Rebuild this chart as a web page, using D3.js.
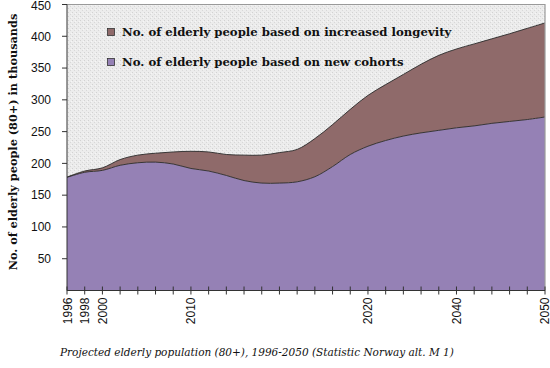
<!DOCTYPE html>
<html>
<head>
<meta charset="utf-8">
<script src="https://cdn.jsdelivr.net/npm/d3@7/dist/d3.min.js"></script>
<style>
  body { margin: 0; background: #fff; }
  svg { display: block; }
</style>
</head>
<body>
<svg width="550" height="368"></svg>
<script>
// data (thousands of people 80+)
const years = [1996, 1998, 2000, 2002, 2004, 2006, 2008, 2010, 2012, 2014, 2016, 2018, 2020, 2022,
  2024, 2026, 2028, 2030, 2032, 2034, 2036, 2038, 2040, 2042, 2044, 2046, 2048, 2050];
const newCohorts = [178, 186, 189, 197, 201, 202, 199, 192, 188, 181, 173, 169, 169, 171,
  179, 195, 214, 227, 236, 243, 248, 252, 256, 259, 263, 266, 269, 273];
const longevity = [0.5, 2, 4, 9, 12, 14, 19, 27, 30, 33, 40, 44, 48, 51,
  60, 66, 71, 80, 88, 97, 108, 118, 124, 129, 133, 138, 143.5, 148];
const yTicks = [50, 100, 150, 200, 250, 300, 350, 400, 450];
const xLabelYears = [1996, 1998, 2000, 2010, 2030, 2040, 2050];
const xLabelText = ["1996", "1998", "2000", "2010", "2020", "2040", "2050"];
const seriesKeys = ["cohorts", "longevity"];
const seriesNames = ["No. of elderly people based on new cohorts", "No. of elderly people based on increased longevity"];
const seriesColors = ["#9581b5", "#8f6a6a"];

const svg = d3.select("svg");

const x = d3.scaleLinear().domain([1996, 2050]).range([67, 545]);
const y = d3.scaleLinear().domain([0, 450]).range([290.5, 4.5]);

// stippled grey plot background
const defs = svg.append("defs");
const pat = defs.append("pattern")
  .attr("id", "stipple")
  .attr("width", 4).attr("height", 4)
  .attr("patternUnits", "userSpaceOnUse");
pat.append("rect").attr("width", 4).attr("height", 4).attr("fill", "#ececec");
pat.append("rect").attr("x", 0).attr("y", 0).attr("width", 1).attr("height", 1).attr("fill", "#d2d2d2");
pat.append("rect").attr("x", 2).attr("y", 2).attr("width", 1).attr("height", 1).attr("fill", "#d8d8d8");
pat.append("rect").attr("x", 3).attr("y", 1).attr("width", 1).attr("height", 1).attr("fill", "#f6f6f6");

svg.append("rect")
  .attr("x", x(1996)).attr("y", y(450))
  .attr("width", x(2050) - x(1996)).attr("height", y(0) - y(450))
  .attr("fill", "url(#stipple)");

const rows = years.map((yr, i) => ({ year: yr, cohorts: newCohorts[i], longevity: longevity[i] }));
const stack = d3.stack().keys(seriesKeys);
const layers = stack(rows);

const area = d3.area()
  .x(d => x(d.data.year))
  .y0(d => y(d[0]))
  .y1(d => y(d[1]))
  .curve(d3.curveCatmullRom);

const topLine = d3.line()
  .x(d => x(d.data.year))
  .y(d => y(d[1]))
  .curve(d3.curveCatmullRom);

svg.selectAll("path.layer")
  .data(layers)
  .enter()
  .append("path")
  .attr("class", "layer")
  .attr("d", area)
  .attr("fill", (d, i) => seriesColors[i]);

svg.selectAll("path.edge")
  .data(layers)
  .enter()
  .append("path")
  .attr("class", "edge")
  .attr("d", topLine)
  .attr("fill", "none")
  .attr("stroke", "#2a2a2a")
  .attr("stroke-width", 0.9);

// plot frame: grey top/right, dark axes
svg.append("path")
  .attr("d", `M${x(1996)},${y(450)}H${x(2050)}V${y(0)}`)
  .attr("fill", "none")
  .attr("stroke", "#9a9a9a")
  .attr("stroke-width", 1.2);

// y axis
const yAxis = svg.append("g").attr("transform", `translate(${x(1996)},0)`);
yAxis.append("line")
  .attr("x1", 0).attr("x2", 0)
  .attr("y1", y(450)).attr("y2", y(0))
  .attr("stroke", "#333").attr("stroke-width", 1);
yAxis.selectAll("line.tick")
  .data(yTicks)
  .enter()
  .append("line")
  .attr("class", "tick")
  .attr("x1", -5).attr("x2", 0)
  .attr("y1", d => y(d)).attr("y2", d => y(d))
  .attr("stroke", "#333");
yAxis.selectAll("text")
  .data(yTicks)
  .enter()
  .append("text")
  .attr("x", -16)
  .attr("y", d => Math.max(y(d), 5.5))
  .attr("dy", "0.36em")
  .attr("text-anchor", "end")
  .style("font-family", "'Liberation Sans', Arial, sans-serif")
  .style("font-size", "12px")
  .attr("fill", "#111")
  .text(d => d);

// x axis
const xAxis = svg.append("g").attr("transform", `translate(0,${y(0)})`);
xAxis.append("line")
  .attr("x1", x(1996)).attr("x2", x(2050))
  .attr("stroke", "#333");
xAxis.selectAll("line.tick")
  .data(years)
  .enter()
  .append("line")
  .attr("class", "tick")
  .attr("x1", d => x(d)).attr("x2", d => x(d))
  .attr("y1", -4).attr("y2", 4)
  .attr("stroke", "#333");
xAxis.selectAll("text")
  .data(xLabelYears)
  .enter()
  .append("text")
  .attr("transform", d => `translate(${Math.min(x(d) + 4.5, 548.5)},7) rotate(-90)`)
  .attr("text-anchor", "end")
  .style("font-family", "'Liberation Sans', Arial, sans-serif")
  .style("font-size", "12px")
  .attr("fill", "#111")
  .text((d, i) => xLabelText[i]);

// y axis title
svg.append("text")
  .attr("transform", `translate(17,${142}) rotate(-90)`)
  .attr("text-anchor", "middle")
  .style("font-family", "'DejaVu Serif', serif")
  .style("font-weight", "bold")
  .style("font-size", "11.3px")
  .attr("fill", "#111")
  .text("No. of elderly people (80+) in thousands");

// legend (longevity first, then cohorts)
const legendOrder = [1, 0];
const legend = svg.append("g");
legendOrder.forEach((k, j) => {
  const gy = 32 + j * 30;
  legend.append("rect")
    .attr("x", 107.5).attr("y", gy - 3.5)
    .attr("width", 7).attr("height", 7)
    .attr("fill", seriesColors[k])
    .attr("stroke", "#333").attr("stroke-width", 0.8);
  legend.append("text")
    .attr("x", 122).attr("y", gy)
    .attr("dy", "0.36em")
    .style("font-family", "'DejaVu Serif', serif")
    .style("font-weight", "bold")
    .style("font-size", "11.7px")
    .attr("fill", "#111")
    .text(seriesNames[k]);
});

// caption
svg.append("text")
  .attr("x", 60).attr("y", 356)
  .style("font-family", "'DejaVu Serif', serif")
  .style("font-style", "italic")
  .style("font-size", "10.5px")
  .attr("fill", "#111")
  .text("Projected elderly population (80+), 1996-2050 (Statistic Norway alt. M 1)");
</script>
</body>
</html>
